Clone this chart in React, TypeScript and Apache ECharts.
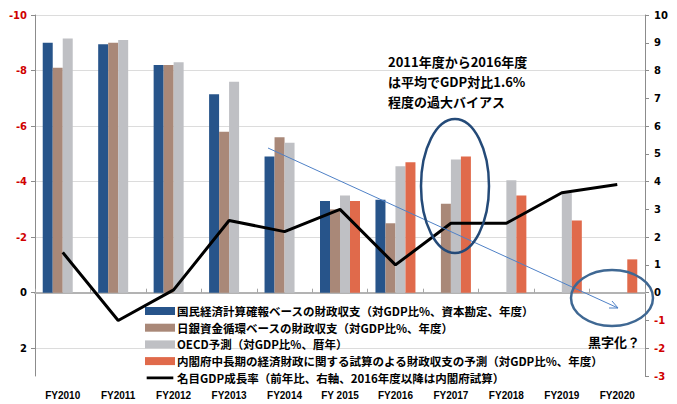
import React, { useEffect, useRef } from "react";
import * as echarts from "echarts";

const categories = ["FY2010", "FY2011", "FY2012", "FY2013", "FY2014", "FY 2015", "FY2016", "FY2017", "FY2018", "FY2019", "FY2020"];
const sna = [-9.0, -8.95, -8.2, -7.15, -4.9, -3.3, -3.35, null, null, null, null];
const boj = [-8.1, -9.0, -8.2, -5.8, -5.6, -3.0, -2.5, -3.2, null, null, null];
const oecd = [-9.15, -9.1, -8.3, -7.6, -5.4, -3.5, -4.55, -4.8, -4.05, -3.6, null];
const cabinet = [null, null, null, null, null, -3.3, -4.7, -4.9, -3.5, -2.6, -1.2];
const gdpGrowth = [1.45, -1.0, 0.1, 2.6, 2.2, 3.0, 1.0, 2.5, 2.5, 3.6, 3.9];
const seriesNames = [
  "国民経済計算確報ベースの財政収支（対GDP比%、資本勘定、年度）",
  "日銀資金循環ベースの財政収支（対GDP比%、年度）",
  "OECD予測（対GDP比%、暦年）",
  "内閣府中長期の経済財政に関する試算のよる財政収支の予測（対GDP比%、年度）",
  "名目GDP成長率（前年比、右軸、2016年度以降は内閣府試算）",
];
const annotationLines = ["2011年度から2016年度", "は平均でGDP対比1.6%", "程度の過大バイアス"];
const surplusNote = "黒字化？";

const JP = '"Noto Sans CJK JP", sans-serif';
const NUM = '"DejaVu Sans", sans-serif';
const RED = "#d00000";

export default function App() {
  const ref = useRef<HTMLDivElement>(null);
  useEffect(() => {
    if (!ref.current) return;
    const chart = echarts.init(ref.current, null, { renderer: "svg" });
    const barColors = ["#27548a", "#a98878", "#bfc0c4", "#e06a4b"];
    const barData = [sna, boj, oecd, cabinet];
    const bars = barData.map((d, i) => ({
      name: seriesNames[i],
      type: "bar",
      yAxisIndex: 0,
      data: d,
      barWidth: 10,
      barGap: "0%",
      itemStyle: { color: barColors[i] },
    }));
    const option: any = {
      animation: false,
      backgroundColor: "#ffffff",
      grid: { left: 35, right: 32, top: 15, bottom: 28, containLabel: false, outerBoundsMode: "none" },
      legend: {
        orient: "vertical",
        left: 140,
        top: 299,
        itemWidth: 30,
        itemHeight: 8,
        itemGap: 2.7,
        textStyle: { fontFamily: JP, fontWeight: "bold", fontSize: 11.5, color: "#000", lineHeight: 14, padding: [0, 0, 0, -3] },
        data: [
          { name: seriesNames[0], icon: "rect" },
          { name: seriesNames[1], icon: "rect" },
          { name: seriesNames[2], icon: "rect" },
          { name: seriesNames[3], icon: "rect" },
          { name: seriesNames[4], icon: "path://M0,0L30,0L30,0.01L0,0.01Z M0,3L30,3L30,6L0,6Z M0,9L30,9L30,9.01L0,9.01Z", itemStyle: { color: "#000" } },
        ],
      },
      xAxis: {
        type: "category",
        data: categories,
        axisLine: { onZero: true, lineStyle: { color: "#b3b3b3", width: 2 } },
        axisTick: { show: true, inside: true, length: 4, lineStyle: { color: "#a6a6a6" } },
        axisLabel: { margin: 14, fontFamily: '"Liberation Sans", sans-serif', fontWeight: "bold", fontSize: 10, color: "#000", interval: 0 },
        splitLine: { show: false },
      },
      yAxis: [
        {
          type: "value",
          inverse: true,
          min: -10,
          max: 3,
          interval: 2,
          position: "left",
          axisLine: { show: true, onZero: false, lineStyle: { color: "#8c8c8c", width: 1 } },
          axisTick: { show: true, length: 4, lineStyle: { color: "#8c8c8c" } },
          axisLabel: {
            margin: 8,
            fontFamily: NUM,
            fontWeight: "bold",
            fontSize: 10,
            showMaxLabel: false,
            color: (v: any) => (Number(v) < 0 ? RED : "#000"),
          },
          splitLine: {
            show: true,
            lineStyle: { color: ["#dcdcdc", "#dcdcdc", "#dcdcdc", "#dcdcdc", "#dcdcdc", "#dcdcdc", "#dcdcdc", "rgba(0,0,0,0)"], width: 1 },
          },
        },
        {
          type: "value",
          min: -3,
          max: 10,
          interval: 1,
          position: "right",
          axisLine: { show: true, onZero: false, lineStyle: { color: "#8c8c8c", width: 1 } },
          axisTick: { show: true, length: 4, lineStyle: { color: "#8c8c8c" } },
          axisLabel: {
            margin: 9,
            fontFamily: NUM,
            fontWeight: "bold",
            fontSize: 10,
            color: (v: any) => (Number(v) < 0 ? RED : "#000"),
          },
          splitLine: { show: false },
        },
      ],
      series: [
        ...bars,
        {
          name: seriesNames[4],
          type: "line",
          yAxisIndex: 1,
          data: gdpGrowth,
          symbol: "none",
          lineStyle: { color: "#000", width: 3 },
          itemStyle: { color: "#000" },
          z: 5,
        },
      ],
      graphic: [
        {
          type: "polyline",
          z: 10,
          shape: { points: [[268, 148], [618, 308]] },
          style: { stroke: "#4f81c6", lineWidth: 1, fill: "none" },
        },
        {
          type: "polyline",
          z: 10,
          shape: { points: [[612, 301], [618, 308], [609, 308]] },
          style: { stroke: "#4f81c6", lineWidth: 1, fill: "none" },
        },
        {
          type: "ellipse",
          z: 11,
          shape: { cx: 455, cy: 186, rx: 34, ry: 67 },
          style: { fill: "none", stroke: "#244a78", lineWidth: 2.5 },
        },
        {
          type: "ellipse",
          z: 11,
          shape: { cx: 612, cy: 298, rx: 41, ry: 28 },
          style: { fill: "none", stroke: "#3f6893", lineWidth: 2.5 },
        },
        ...annotationLines.map((t, i) => ({
          type: "text",
          z: 12,
          x: 388,
          y: 61 + i * 20,
          style: { text: t, fill: "#000", font: `bold 13px ${JP}`, verticalAlign: "middle" },
        })),
        {
          type: "text",
          z: 12,
          x: 614,
          y: 341,
          style: { text: surplusNote, fill: "#000", font: `bold 13px ${JP}`, align: "center", verticalAlign: "middle" },
        },
      ],
    };
    chart.setOption(option);
    return () => chart.dispose();
  }, []);
  return <div ref={ref} style={{ position: "absolute", left: 0, top: 0, width: 677, height: 404 }} />;
}
